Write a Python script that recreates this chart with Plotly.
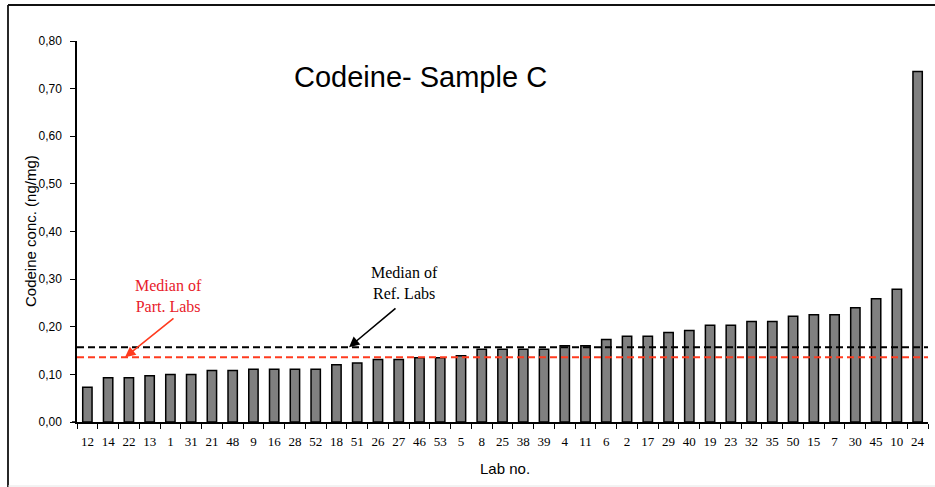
import plotly.graph_objects as go

labs = ["12", "14", "22", "13", "1", "31", "21", "48", "9", "16", "28", "52", "18", "51",
        "26", "27", "46", "53", "5", "8", "25", "38", "39", "4", "11", "6", "2", "17", "29",
        "40", "19", "23", "32", "35", "50", "15", "7", "30", "45", "10", "24"]
values = [0.073, 0.093, 0.093, 0.097, 0.100, 0.100, 0.108, 0.108, 0.111, 0.111, 0.111, 0.111,
          0.120, 0.124, 0.131, 0.131, 0.135, 0.135, 0.139, 0.153, 0.153, 0.153, 0.153, 0.160,
          0.160, 0.173, 0.180, 0.180, 0.188, 0.192, 0.203, 0.203, 0.211, 0.211, 0.222, 0.225,
          0.225, 0.240, 0.259, 0.279, 0.736]
median_ref = 0.157
median_part = 0.136

W, H = 935, 487
ML, MR, MT, MB = 77, 7, 41, 65
PW = W - ML - MR
PH = H - MT - MB

def px_x(p):
    return (p - ML) / PW

def px_y(p):
    return 1 - (p - MT) / PH

fig = go.Figure()
fig.add_trace(go.Bar(
    x=labs, y=values,
    marker=dict(color="#808080", line=dict(color="#000000", width=1.5)),
    showlegend=False,
))

red_line = "#ff3b1f"
red_text = "#e8202a"

shapes = [
    dict(type="line", xref="paper", yref="y", x0=0, x1=1, y0=median_ref, y1=median_ref,
         line=dict(color="#000000", width=2, dash="7px,4px")),
    dict(type="line", xref="paper", yref="y", x0=0, x1=1, y0=median_part, y1=median_part,
         line=dict(color=red_line, width=2, dash="7px,4px")),
    # x-axis stub to the left of the y axis
    dict(type="line", xref="paper", yref="paper", x0=px_x(72), x1=0, y0=0, y1=0,
         line=dict(color="#000000", width=1.5)),
    # outer frame (left, top, faint bottom)
    dict(type="line", xref="paper", yref="paper", x0=px_x(8), x1=px_x(8), y0=px_y(5), y1=px_y(490),
         line=dict(color="#111111", width=1.8)),
    dict(type="line", xref="paper", yref="paper", x0=px_x(8), x1=px_x(940), y0=px_y(5), y1=px_y(5),
         line=dict(color="#111111", width=1.8)),
    dict(type="line", xref="paper", yref="paper", x0=px_x(8), x1=px_x(940), y0=px_y(486), y1=px_y(486),
         line=dict(color="#e6e6e6", width=1)),
]

annotations = [
    dict(text="Codeine- Sample C", xref="paper", yref="paper", x=px_x(420), y=px_y(77),
         showarrow=False, font=dict(family="Liberation Sans, Arial", size=29, color="#000000"),
         xanchor="center", yanchor="middle"),
    dict(text="Codeine conc. (ng/mg)", xref="paper", yref="paper", x=px_x(30), y=px_y(231),
         showarrow=False, textangle=-90,
         font=dict(family="Liberation Sans, Arial", size=15, color="#000000"),
         xanchor="center", yanchor="middle"),
    dict(text="Lab no.", xref="paper", yref="paper", x=px_x(505), y=px_y(468),
         showarrow=False, font=dict(family="Liberation Sans, Arial", size=15, color="#000000"),
         xanchor="center", yanchor="middle"),
    dict(text="Median of<br>Part. Labs", xref="paper", yref="paper", x=px_x(168), y=px_y(296),
         showarrow=False, font=dict(family="Liberation Serif, Times New Roman", size=16, color=red_text),
         xanchor="center", yanchor="middle"),
    dict(text="Median of<br>Ref. Labs", xref="paper", yref="paper", x=px_x(404), y=px_y(283),
         showarrow=False, font=dict(family="Liberation Serif, Times New Roman", size=16, color="#000000"),
         xanchor="center", yanchor="middle"),
    dict(text="", xref="paper", yref="y", x=px_x(125), y=median_part, ax=50, ay=-40,
         showarrow=True, arrowhead=2, arrowsize=1.3, arrowwidth=1.6, arrowcolor=red_line),
    dict(text="", xref="paper", yref="y", x=px_x(349), y=median_ref, ax=48, ay=-40,
         showarrow=True, arrowhead=2, arrowsize=1.3, arrowwidth=1.6, arrowcolor="#000000"),
]

fig.update_layout(
    width=W, height=H,
    margin=dict(l=ML, r=MR, t=MT, b=MB, pad=0),
    paper_bgcolor="#ffffff", plot_bgcolor="#ffffff",
    separators=",.",
    bargap=0.55,
    shapes=shapes,
    annotations=annotations,
    xaxis=dict(
        type="category", showgrid=False, zeroline=False,
        showline=True, linecolor="#000000", linewidth=1.5,
        ticks="outside", tickson="boundaries", ticklen=5, tickcolor="#000000", tickwidth=1.2,
        tickfont=dict(family="Liberation Serif, Times New Roman", size=13, color="#000000"),
        ticklabelstandoff=7,
        tickangle=0,
    ),
    yaxis=dict(
        range=[0, 0.8], dtick=0.1, tickformat=".2f", showgrid=False, zeroline=False,
        showline=True, linecolor="#000000", linewidth=1.5,
        ticks="outside", ticklen=5, tickcolor="#000000", tickwidth=1.2,
        tickfont=dict(family="Liberation Sans, Arial", size=12, color="#000000"),
        ticklabelstandoff=6,
    ),
)

fig.write_html(
    "out.html",
    config={"displayModeBar": False},
    post_script="document.body.style.margin='0';document.body.style.overflow='hidden';",
)
